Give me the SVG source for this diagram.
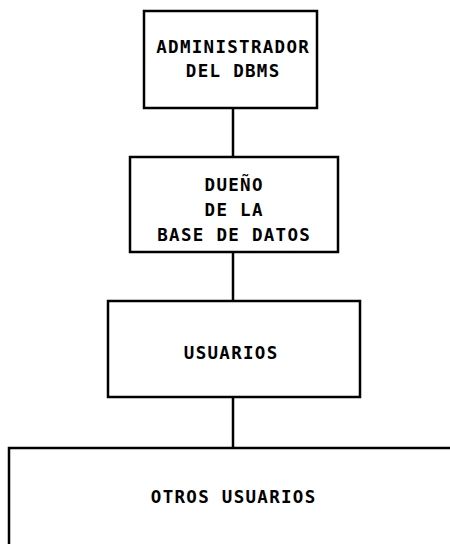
<svg xmlns="http://www.w3.org/2000/svg" width="450" height="544" viewBox="0 0 450 544">
<style>
.box{fill:#fff;stroke:#000;stroke-width:2.5}
.lbl{font-family:"DejaVu Sans Mono","Liberation Mono",monospace;font-weight:bold;font-size:17.5px;letter-spacing:1.3px;text-anchor:middle;fill:#000}
.con{stroke:#000;stroke-width:2.5;fill:none}
</style>
<rect width="450" height="544" fill="#fff"/>
<g id="connectors">
<line class="con" x1="233" y1="108" x2="233" y2="157"/>
<line class="con" x1="233" y1="252" x2="233" y2="301"/>
<line class="con" x1="233" y1="397" x2="233" y2="448"/>
</g>
<g id="admin">
<rect class="box" x="144" y="11" width="173" height="97"/>
<text class="lbl" x="233.2" y="53">ADMINISTRADOR</text>
<text class="lbl" x="233.2" y="77">DEL DBMS</text>
</g>
<g id="dueno">
<rect class="box" x="130" y="157" width="208" height="95"/>
<text class="lbl" x="234.2" y="191">DUEÑO</text>
<text class="lbl" x="234.2" y="216">DE LA</text>
<text class="lbl" x="234.2" y="241">BASE DE DATOS</text>
</g>
<g id="usuarios">
<rect class="box" x="108" y="301" width="252" height="96"/>
<text class="lbl" x="231.2" y="359">USUARIOS</text>
</g>
<g id="otros">
<rect class="box" x="9" y="448" width="460" height="120"/>
<text class="lbl" x="233.7" y="503">OTROS USUARIOS</text>
</g>
</svg>
